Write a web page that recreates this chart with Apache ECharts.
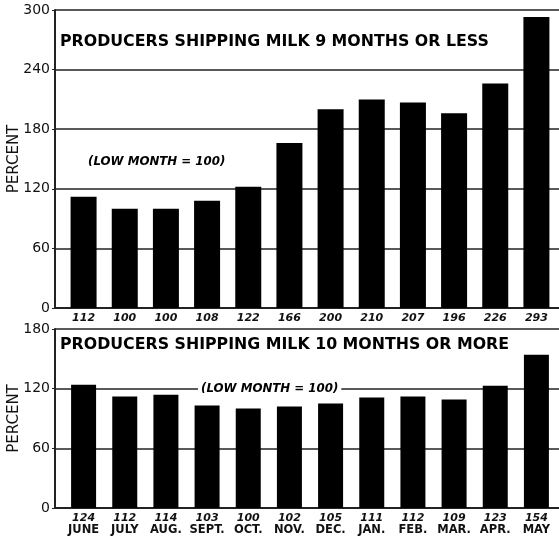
<!DOCTYPE html>
<html>
<head>
<meta charset="utf-8">
<script src="https://cdn.jsdelivr.net/npm/echarts@6/dist/echarts.min.js"></script>
<style>
  html, body { margin: 0; padding: 0; background: #fff; }
  #chart { width: 559px; height: 539px; }
</style>
</head>
<body>
<div id="chart"></div>
<script>
// month order (june .. may)
var months = ['JUNE', 'JULY', 'AUG.', 'SEPT.', 'OCT.', 'NOV.', 'DEC.', 'JAN.', 'FEB.', 'MAR.', 'APR.', 'MAY'];
// producers shipping milk 9 months or less (low month = 100)
var shortValues = [112, 100, 100, 108, 122, 166, 200, 210, 207, 196, 226, 293];
// producers shipping milk 10 months or more
var longValues = [124, 112, 114, 103, 100, 102, 105, 111, 112, 109, 123, 154];
var topTicks = { min: 0, max: 300, interval: 60 };
var bottomTicks = { min: 0, max: 180, interval: 60 };

var FONT = 'DejaVu Sans';
var lineColor = '#222';

// axis frame + grid lines (drawn in their own grid so lines start at the axis)
function frameAxes(gridIndex, ticks) {
	return {
		x: {
			gridIndex: gridIndex, type: 'category', data: months,
			axisLine: { show: true, lineStyle: { color: lineColor, width: 2 } },
			axisTick: { show: false }, axisLabel: { show: false }
		},
		y: {
			gridIndex: gridIndex, type: 'value',
			min: ticks.min, max: ticks.max, interval: ticks.interval,
			name: 'PERCENT', nameLocation: 'middle', nameRotate: 90, nameGap: 33,
			nameMoveOverlap: false,
			nameTextStyle: { fontFamily: FONT, fontSize: 15, color: '#111' },
			axisLine: { show: true, lineStyle: { color: lineColor, width: 2 } },
			axisTick: { show: true, length: 3, lineStyle: { color: lineColor } },
			axisLabel: { fontFamily: FONT, fontSize: 14, color: '#111', margin: 5 },
			splitLine: { show: true, lineStyle: { color: lineColor, width: 1.5 } }
		}
	};
}

var topFrame = frameAxes(0, topTicks);
var bottomFrame = frameAxes(2, bottomTicks);

var chart = echarts.init(document.getElementById('chart'));
chart.setOption({
	animation: false,
	backgroundColor: '#fff',
	grid: [
		{ left: 55, right: -5, top: 10, height: 298, outerBoundsMode: 'none', containLabel: false },
		{ left: 63, width: 494, top: 10, height: 298, outerBoundsMode: 'none', containLabel: false },
		{ left: 55, right: -5, top: 329, height: 179, outerBoundsMode: 'none', containLabel: false },
		{ left: 63, width: 494, top: 329, height: 179, outerBoundsMode: 'none', containLabel: false }
	],
	xAxis: [
		topFrame.x,
		{
			gridIndex: 1, type: 'category', data: months,
			axisLine: { show: false }, axisTick: { show: false },
			axisLabel: {
				interval: 0, margin: 5, fontFamily: FONT, fontSize: 11, fontStyle: 'italic', fontWeight: 'bold', color: '#111',
				formatter: function(v, i) { return String(shortValues[i]); }
			}
		},
		bottomFrame.x,
		{
			gridIndex: 3, type: 'category', data: months,
			axisLine: { show: false }, axisTick: { show: false },
			axisLabel: {
				interval: 0, margin: 4, color: '#111', lineHeight: 12,
				formatter: function(v, i) { return '{v|' + longValues[i] + '}\n{m|' + v + '}'; },
				rich: {
					v: { fontFamily: FONT, fontSize: 11, fontStyle: 'italic', fontWeight: 'bold', color: '#111', lineHeight: 12 },
					m: { fontFamily: FONT, fontSize: 11.5, fontWeight: 'bold', color: '#111', lineHeight: 13 }
				}
			}
		}
	],
	yAxis: [
		topFrame.y,
		{ gridIndex: 1, type: 'value', min: topTicks.min, max: topTicks.max, show: false, splitLine: { show: false } },
		bottomFrame.y,
		{ gridIndex: 3, type: 'value', min: bottomTicks.min, max: bottomTicks.max, show: false, splitLine: { show: false } }
	],
	title: [
		{
			text: 'PRODUCERS SHIPPING MILK 9 MONTHS OR LESS', left: 58, top: 32, padding: 2,
			textStyle: { fontFamily: FONT, fontSize: 15.8, fontWeight: 'bold', color: '#000' }
		},
		{
			text: '(LOW MONTH = 100)', left: 86, top: 154, padding: 2,
			textStyle: { fontFamily: FONT, fontSize: 11.8, fontStyle: 'italic', fontWeight: 'bold', color: '#000' }
		},
		{
			text: 'PRODUCERS SHIPPING MILK 10 MONTHS OR MORE', left: 58, top: 335, padding: 2,
			textStyle: { fontFamily: FONT, fontSize: 15.8, fontWeight: 'bold', color: '#000' }
		},
		{
			text: '(LOW MONTH = 100)', left: 198, top: 381, padding: [2, 3],
			backgroundColor: '#fff',
			textStyle: { fontFamily: FONT, fontSize: 11.8, fontStyle: 'italic', fontWeight: 'bold', color: '#000' }
		}
	],
	series: [
		{
			type: 'bar', xAxisIndex: 1, yAxisIndex: 1, data: shortValues,
			barWidth: 26, itemStyle: { color: '#000' }, silent: true
		},
		{
			type: 'bar', xAxisIndex: 3, yAxisIndex: 3, data: longValues,
			barWidth: 25, itemStyle: { color: '#000' }, silent: true
		}
	]
});
</script>
</body>
</html>
